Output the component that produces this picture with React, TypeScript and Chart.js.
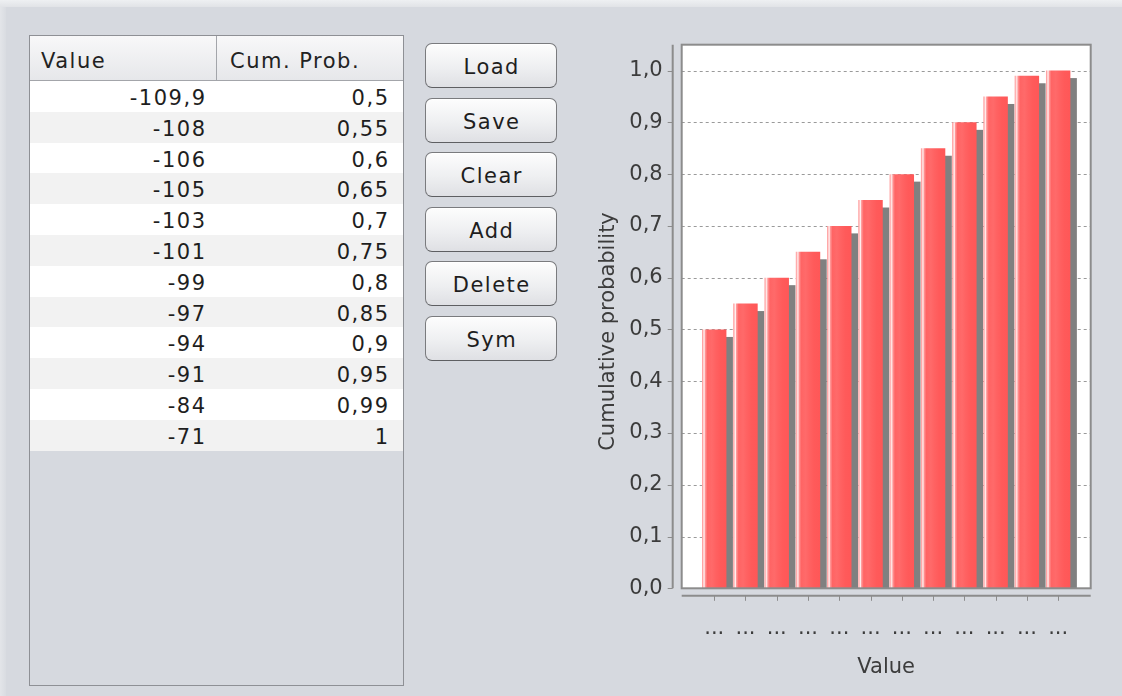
import React, { useEffect, useRef } from 'react';
import { Chart, registerables } from 'chart.js';

Chart.register(...registerables);

// ---------- data ----------
const categories = [-109.9, -108, -106, -105, -103, -101, -99, -97, -94, -91, -84, -71];
const cumProb = [0.5, 0.55, 0.6, 0.65, 0.7, 0.75, 0.8, 0.85, 0.9, 0.95, 0.99, 1];
const yTicks = [0, 0.1, 0.2, 0.3, 0.4, 0.5, 0.6, 0.7, 0.8, 0.9, 1.0];
const buttonLabels = ['Load', 'Save', 'Clear', 'Add', 'Delete', 'Sym'];
const tableHeaders = ['Value', 'Cum. Prob.'];
const yTitle = 'Cumulative probability';
const xTitle = 'Value';
const xTickLabel = '...';

// ---------- styles ----------
const BG = '#D6D9DF';
const FONT = '"DejaVu Sans", "Noto Sans", sans-serif';
const BAR_PCT = 0.78;
const SHADOW_DX = 6.5;
const SHADOW_DY = 7.5;
const AXIS_COLOR = '#8c8c8c';
const TEXT_COLOR = '#3c3c3c';
const LS = '1.5px';

const fmt = (v: number) => String(v).replace('.', ',');

const plotPlugin = {
  id: 'plotDecor',
  beforeDraw(chart: any) {
    const { ctx, chartArea: a, scales } = chart;
    ctx.save();
    ctx.fillStyle = '#ffffff';
    ctx.fillRect(a.left, a.top, a.right - a.left, a.bottom - a.top);
    ctx.strokeStyle = '#9a9a9a';
    ctx.lineWidth = 1;
    ctx.setLineDash([3, 3]);
    scales.y.ticks.forEach((t: any) => {
      const y = Math.round(scales.y.getPixelForValue(t.value)) + 0.5;
      ctx.beginPath();
      ctx.moveTo(a.left, y);
      ctx.lineTo(a.right, y);
      ctx.stroke();
    });
    ctx.restore();
  },
  beforeDatasetsDraw(chart: any) {
    const { ctx, chartArea: a } = chart;
    const meta = chart.getDatasetMeta(0);
    ctx.save();
    ctx.beginPath();
    ctx.rect(a.left, a.top, a.right - a.left, a.bottom - a.top);
    ctx.clip();
    ctx.fillStyle = '#808080';
    meta.data.forEach((el: any) => {
      const { x, y, base, width } = el.getProps(['x', 'y', 'base', 'width'], true);
      ctx.fillRect(x - width / 2 + SHADOW_DX, y + SHADOW_DY, width, base - y);
    });
    ctx.restore();
  },
  afterDatasetsDraw(chart: any) {
    const { ctx, chartArea: a, scales } = chart;
    ctx.save();
    ctx.strokeStyle = '#707070';
    ctx.lineWidth = 1;
    ctx.setLineDash([3, 3]);
    const y0 = Math.round(scales.y.getPixelForValue(0)) + 0.5;
    ctx.beginPath();
    ctx.moveTo(a.left, y0);
    ctx.lineTo(a.right, y0);
    ctx.stroke();
    ctx.setLineDash([]);
    ctx.strokeStyle = AXIS_COLOR;
    ctx.lineWidth = 2;
    ctx.strokeRect(a.left, a.top, a.right - a.left, a.bottom - a.top);
    ctx.restore();
  },
  afterDraw(chart: any) {
    const { ctx, chartArea: a, scales } = chart;
    ctx.save();
    ctx.strokeStyle = AXIS_COLOR;
    ctx.lineWidth = 2;
    const ax = a.left - 9;
    ctx.beginPath();
    ctx.moveTo(ax, a.top);
    ctx.lineTo(ax, a.bottom);
    ctx.stroke();
    const ay = a.bottom + 7.5;
    ctx.beginPath();
    ctx.moveTo(a.left, ay);
    ctx.lineTo(a.right, ay);
    ctx.stroke();
    ctx.lineWidth = 1;
    scales.y.ticks.forEach((t: any) => {
      const y = Math.round(scales.y.getPixelForValue(t.value)) + 0.5;
      ctx.beginPath();
      ctx.moveTo(ax - 5, y);
      ctx.lineTo(ax, y);
      ctx.stroke();
    });
    scales.x.ticks.forEach((t: any) => {
      const x = Math.round(scales.x.getPixelForValue(t.value)) + 0.5;
      ctx.beginPath();
      ctx.moveTo(x, ay);
      ctx.lineTo(x, ay + 5);
      ctx.stroke();
    });
    ctx.translate(a.left - 73.4, (a.top + a.bottom) / 2 + 15);
    ctx.rotate(-Math.PI / 2);
    ctx.font = '21px ' + FONT;
    ctx.fillStyle = TEXT_COLOR;
    ctx.textAlign = 'center';
    ctx.textBaseline = 'middle';
    ctx.fillText(yTitle, 0, 0);
    ctx.restore();
  },
};

function barGradient(c: any) {
  const chart = c.chart;
  const xs = chart.scales && chart.scales.x;
  if (!xs || !chart.chartArea) return '#ff5a5a';
  const cx = xs.getPixelForValue(c.dataIndex);
  const w = (xs.getPixelForValue(1) - xs.getPixelForValue(0)) * BAR_PCT;
  const l = cx - w / 2;
  const g = chart.ctx.createLinearGradient(l, 0, l + w, 0);
  g.addColorStop(0, '#ff8a8a');
  g.addColorStop(0.05, '#ffc8c8');
  g.addColorStop(0.09, '#fff0f0');
  g.addColorStop(0.13, '#ff9a9a');
  g.addColorStop(0.22, '#ff6464');
  g.addColorStop(0.4, '#ff6a6a');
  g.addColorStop(0.55, '#ff6262');
  g.addColorStop(0.75, '#ff5a5a');
  g.addColorStop(1, '#ff5757');
  return g;
}

function zeroPad(s: any) {
  s.paddingTop = 0;
  s.paddingBottom = 0;
  s.paddingLeft = 0;
  s.paddingRight = 0;
}

function ChartPanel() {
  const ref = useRef<HTMLCanvasElement>(null);
  useEffect(() => {
    if (!ref.current) return;
    Chart.defaults.font.family = FONT;
    Chart.defaults.font.size = 21;
    const chart = new Chart(ref.current, {
      type: 'bar',
      data: {
        datasets: [
          {
            data: cumProb.map((p, i) => ({ x: i, y: p })),
            backgroundColor: barGradient,
            borderWidth: 0,
            barPercentage: BAR_PCT,
            categoryPercentage: 1,
          },
        ],
      },
      options: {
        animation: false,
        responsive: false,
        maintainAspectRatio: false,
        devicePixelRatio: 1,
        layout: { padding: { left: 0, top: 14.7, right: 31.3, bottom: 0 } },
        plugins: { legend: { display: false }, tooltip: { enabled: false } },
        scales: {
          x: {
            type: 'linear',
            min: -1.04,
            max: 12.04,
            offset: false,
            grid: { display: false, drawTicks: false },
            border: { display: false },
            afterBuildTicks: (s: any) => {
              s.ticks = categories.map((_, i) => ({ value: i }));
            },
            afterFit: (s: any) => {
              s.height = 107.7;
              zeroPad(s);
            },
            ticks: {
              autoSkip: false,
              maxRotation: 0,
              padding: 28,
              color: TEXT_COLOR,
              font: { size: 21 },
              callback: () => xTickLabel,
            },
            title: {
              display: true,
              text: xTitle,
              color: TEXT_COLOR,
              font: { size: 21 },
              padding: { top: 0, bottom: 15.4 },
            },
          },
          y: {
            type: 'linear',
            min: 0,
            max: 1.05,
            grid: { display: false, drawTicks: false },
            border: { display: false },
            afterBuildTicks: (s: any) => {
              s.ticks = yTicks.map((v) => ({ value: v }));
            },
            afterFit: (s: any) => {
              s.width = 101.7;
              zeroPad(s);
            },
            ticks: {
              padding: 19,
              color: TEXT_COLOR,
              font: { size: 21 },
              callback: (v: any) => Number(v).toFixed(1).replace('.', ','),
            },
          },
        },
      },
      plugins: [plotPlugin],
    } as any);
    return () => chart.destroy();
  }, []);
  return (
    <canvas
      ref={ref}
      width={542}
      height={666}
      style={{ position: 'absolute', left: 580, top: 30, width: 542, height: 666 }}
    />
  );
}

function DataTable() {
  const rowH = 30.8;
  return (
    <div
      style={{
        position: 'absolute',
        left: 29,
        top: 35,
        width: 375,
        height: 651,
        border: '1px solid #8e9095',
        boxSizing: 'border-box',
        background: BG,
        overflow: 'hidden',
      }}
    >
      <div style={{ display: 'flex', height: 45, borderBottom: '1px solid #a3a5aa', boxSizing: 'border-box' }}>
        {tableHeaders.map((h, i) => (
          <div
            key={h}
            style={{
              width: i === 0 ? 187 : 186,
              height: '100%',
              boxSizing: 'border-box',
              borderRight: i === 0 ? '1px solid #a3a5aa' : 'none',
              background: 'linear-gradient(#f8f8f9, #e6e7ea)',
              paddingLeft: i === 0 ? 11 : 13,
              paddingTop: 6,
              lineHeight: '38px',
              fontSize: 21,
              letterSpacing: LS,
              color: '#222',
              whiteSpace: 'nowrap',
            }}
          >
            {h}
          </div>
        ))}
      </div>
      {categories.map((v, i) => (
        <div
          key={i}
          style={{
            display: 'flex',
            height: rowH,
            background: i % 2 === 0 ? '#ffffff' : '#f2f2f2',
            fontSize: 21,
            letterSpacing: LS,
            color: '#1e1e1e',
            lineHeight: rowH + 'px',
          }}
        >
          <div style={{ width: 187, boxSizing: 'border-box', textAlign: 'right', paddingRight: 10.5, paddingTop: 2 }}>
            {fmt(v)}
          </div>
          <div style={{ width: 186, boxSizing: 'border-box', textAlign: 'right', paddingRight: 13.5, paddingTop: 2 }}>
            {fmt(cumProb[i])}
          </div>
        </div>
      ))}
    </div>
  );
}

function Buttons() {
  return (
    <>
      {buttonLabels.map((b, i) => (
        <div
          key={b}
          style={{
            position: 'absolute',
            left: 425,
            top: 43 + i * 54.5,
            width: 132,
            height: 45,
            boxSizing: 'border-box',
            border: '1px solid #7a7b7e',
            borderBottomColor: '#5e5f62',
            borderRadius: 7,
            background: 'linear-gradient(#fdfdfd, #eeeff1 55%, #dfe0e4)',
            boxShadow: 'inset 0 1px 0 #ffffff',
            textAlign: 'center',
            paddingTop: 3,
            lineHeight: '40px',
            fontSize: 21,
            letterSpacing: LS,
            paddingLeft: 1.5,
            color: '#1e1e1e',
          }}
        >
          {b}
        </div>
      ))}
    </>
  );
}

export default function App() {
  return (
    <div
      style={{
        position: 'absolute',
        left: 0,
        top: 0,
        width: 1122,
        height: 696,
        background: BG,
        overflow: 'hidden',
        fontFamily: FONT,
      }}
    >
      <div style={{ position: 'absolute', left: 0, top: 0, width: 1122, height: 7, background: 'linear-gradient(#eef0f2, #e1e3e7)' }} />
      <div style={{ position: 'absolute', left: 0, top: 7, width: 6, height: 689, background: 'linear-gradient(to right, #e3e5e9, #d9dce1)' }} />
      <DataTable />
      <Buttons />
      <ChartPanel />
    </div>
  );
}
